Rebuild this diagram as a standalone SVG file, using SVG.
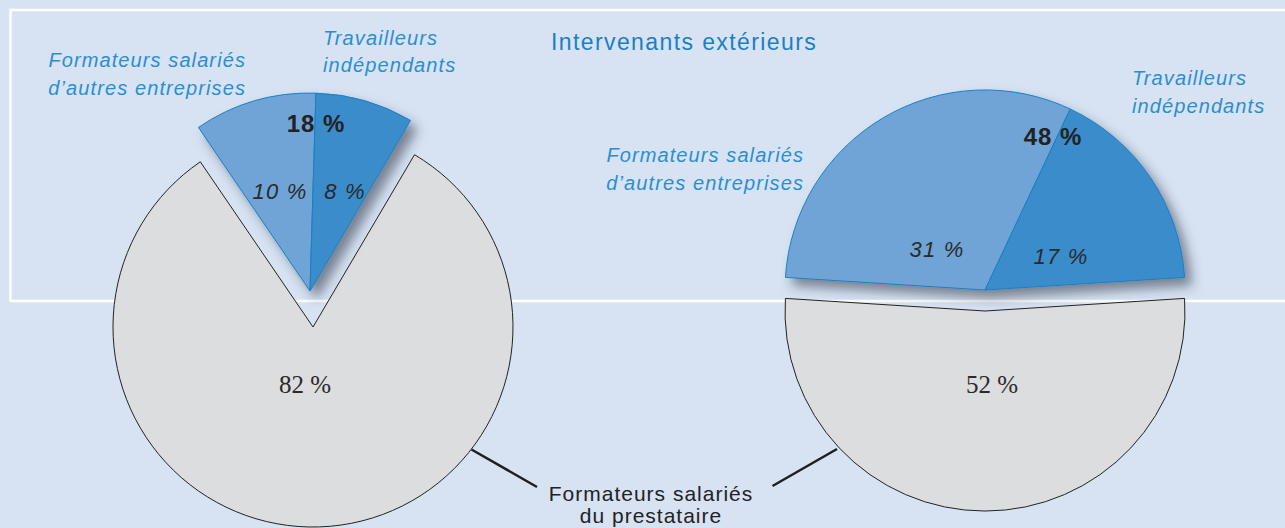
<svg xmlns="http://www.w3.org/2000/svg" width="1285" height="528" viewBox="0 0 1285 528">
<defs>
<style>
.bg{fill:#d7e3f3}
.frame{fill:none;stroke:#ffffff;stroke-width:2.5}
.grey{fill:#dcdddf;stroke:#222;stroke-width:1}
.lb{fill:#6fa4d6;stroke:#1a80c4;stroke-width:1}
.db{fill:#3a8ccb;stroke:#1a80c4;stroke-width:1}
.lab{font-family:"Liberation Sans",Arial,sans-serif;font-style:italic;font-size:20px;letter-spacing:1.1px;fill:#2a8fd0}
.title{font-family:"Liberation Sans",Arial,sans-serif;font-size:23px;letter-spacing:1.4px;fill:#1a7fc4}
.bold{font-family:"Liberation Sans",Arial,sans-serif;font-weight:bold;font-size:24px;letter-spacing:1px;fill:#222;text-anchor:middle}
.it{font-family:"Liberation Sans",Arial,sans-serif;font-style:italic;font-size:22px;letter-spacing:1.2px;fill:#2a2a2a;text-anchor:middle}
.ser{font-family:"Liberation Serif","Times New Roman",serif;font-size:25px;fill:#2a2a2a;text-anchor:middle}
.dark{font-family:"Liberation Sans",Arial,sans-serif;font-size:21px;letter-spacing:1px;fill:#222;text-anchor:middle}
.conn{stroke:#1f1f1f;stroke-width:2.5;fill:none}
</style>
<filter id="shadow" x="-20%" y="-20%" width="150%" height="150%">
<feGaussianBlur in="SourceAlpha" stdDeviation="6"/>
<feOffset dx="7" dy="8" result="b"/>
<feFlood flood-color="#2c3446" flood-opacity="0.55"/>
<feComposite in2="b" operator="in" result="s"/>
<feMerge><feMergeNode in="s"/><feMergeNode in="SourceGraphic"/></feMerge>
</filter>
</defs>
<rect class="bg" x="0" y="0" width="1285" height="528"/>
<rect class="frame" x="10.5" y="10" width="1290" height="291"/>
<text class="title" x="551" y="50">Intervenants extérieurs</text>

<g id="pie-left">
<path id="left-grey" class="grey" d="M313,327 L414.5,154.7 A200,200 0 1 1 200.3,161.8 Z"/>
<g id="left-blue" filter="url(#shadow)">
<path class="lb" d="M310,291 L198.4,127.4 A198,198 0 0 1 315.9,93.1 Z"/>
<path class="db" d="M310,291 L315.9,93.1 A198,198 0 0 1 410.5,120.4 Z"/>
</g>
<text class="bold" x="316" y="132">18 %</text>
<text class="it" x="280" y="199">10 %</text>
<text class="it" x="345" y="199">8 %</text>
<text class="ser" x="305" y="393">82 %</text>
</g>

<g id="pie-right">
<path id="right-grey" class="grey" d="M985,311 L1184.6,298.4 A200,200 0 1 1 785.4,298.4 Z"/>
<g id="right-blue" filter="url(#shadow)">
<path class="lb" d="M985,290 L785.4,277.4 A200,200 0 0 1 1070.2,109 Z"/>
<path class="db" d="M985,290 L1070.2,109 A200,200 0 0 1 1184.6,277.4 Z"/>
</g>
<text class="bold" x="1053" y="145">48 %</text>
<text class="it" x="937" y="257">31 %</text>
<text class="it" x="1061" y="264">17 %</text>
<text class="ser" x="992" y="393">52 %</text>
</g>

<g id="label-left-others">
<text class="lab" x="246" y="67" text-anchor="end">Formateurs salariés</text>
<text class="lab" x="246" y="95" text-anchor="end">d’autres entreprises</text>
</g>
<g id="label-left-indep">
<text class="lab" x="323" y="45">Travailleurs</text>
<text class="lab" x="323" y="72">indépendants</text>
</g>
<g id="label-right-others">
<text class="lab" x="804" y="162" text-anchor="end">Formateurs salariés</text>
<text class="lab" x="804" y="190" text-anchor="end">d’autres entreprises</text>
</g>
<g id="label-right-indep">
<text class="lab" x="1132" y="85">Travailleurs</text>
<text class="lab" x="1132" y="113">indépendants</text>
</g>
<g id="label-bottom">
<text class="dark" x="651" y="501">Formateurs salariés</text>
<text class="dark" x="651" y="523">du prestataire</text>
</g>

<g id="connectors">
<line class="conn" x1="471.5" y1="449.5" x2="537" y2="487"/>
<line class="conn" x1="772.5" y1="486" x2="837" y2="449"/>
</g>
</svg>
